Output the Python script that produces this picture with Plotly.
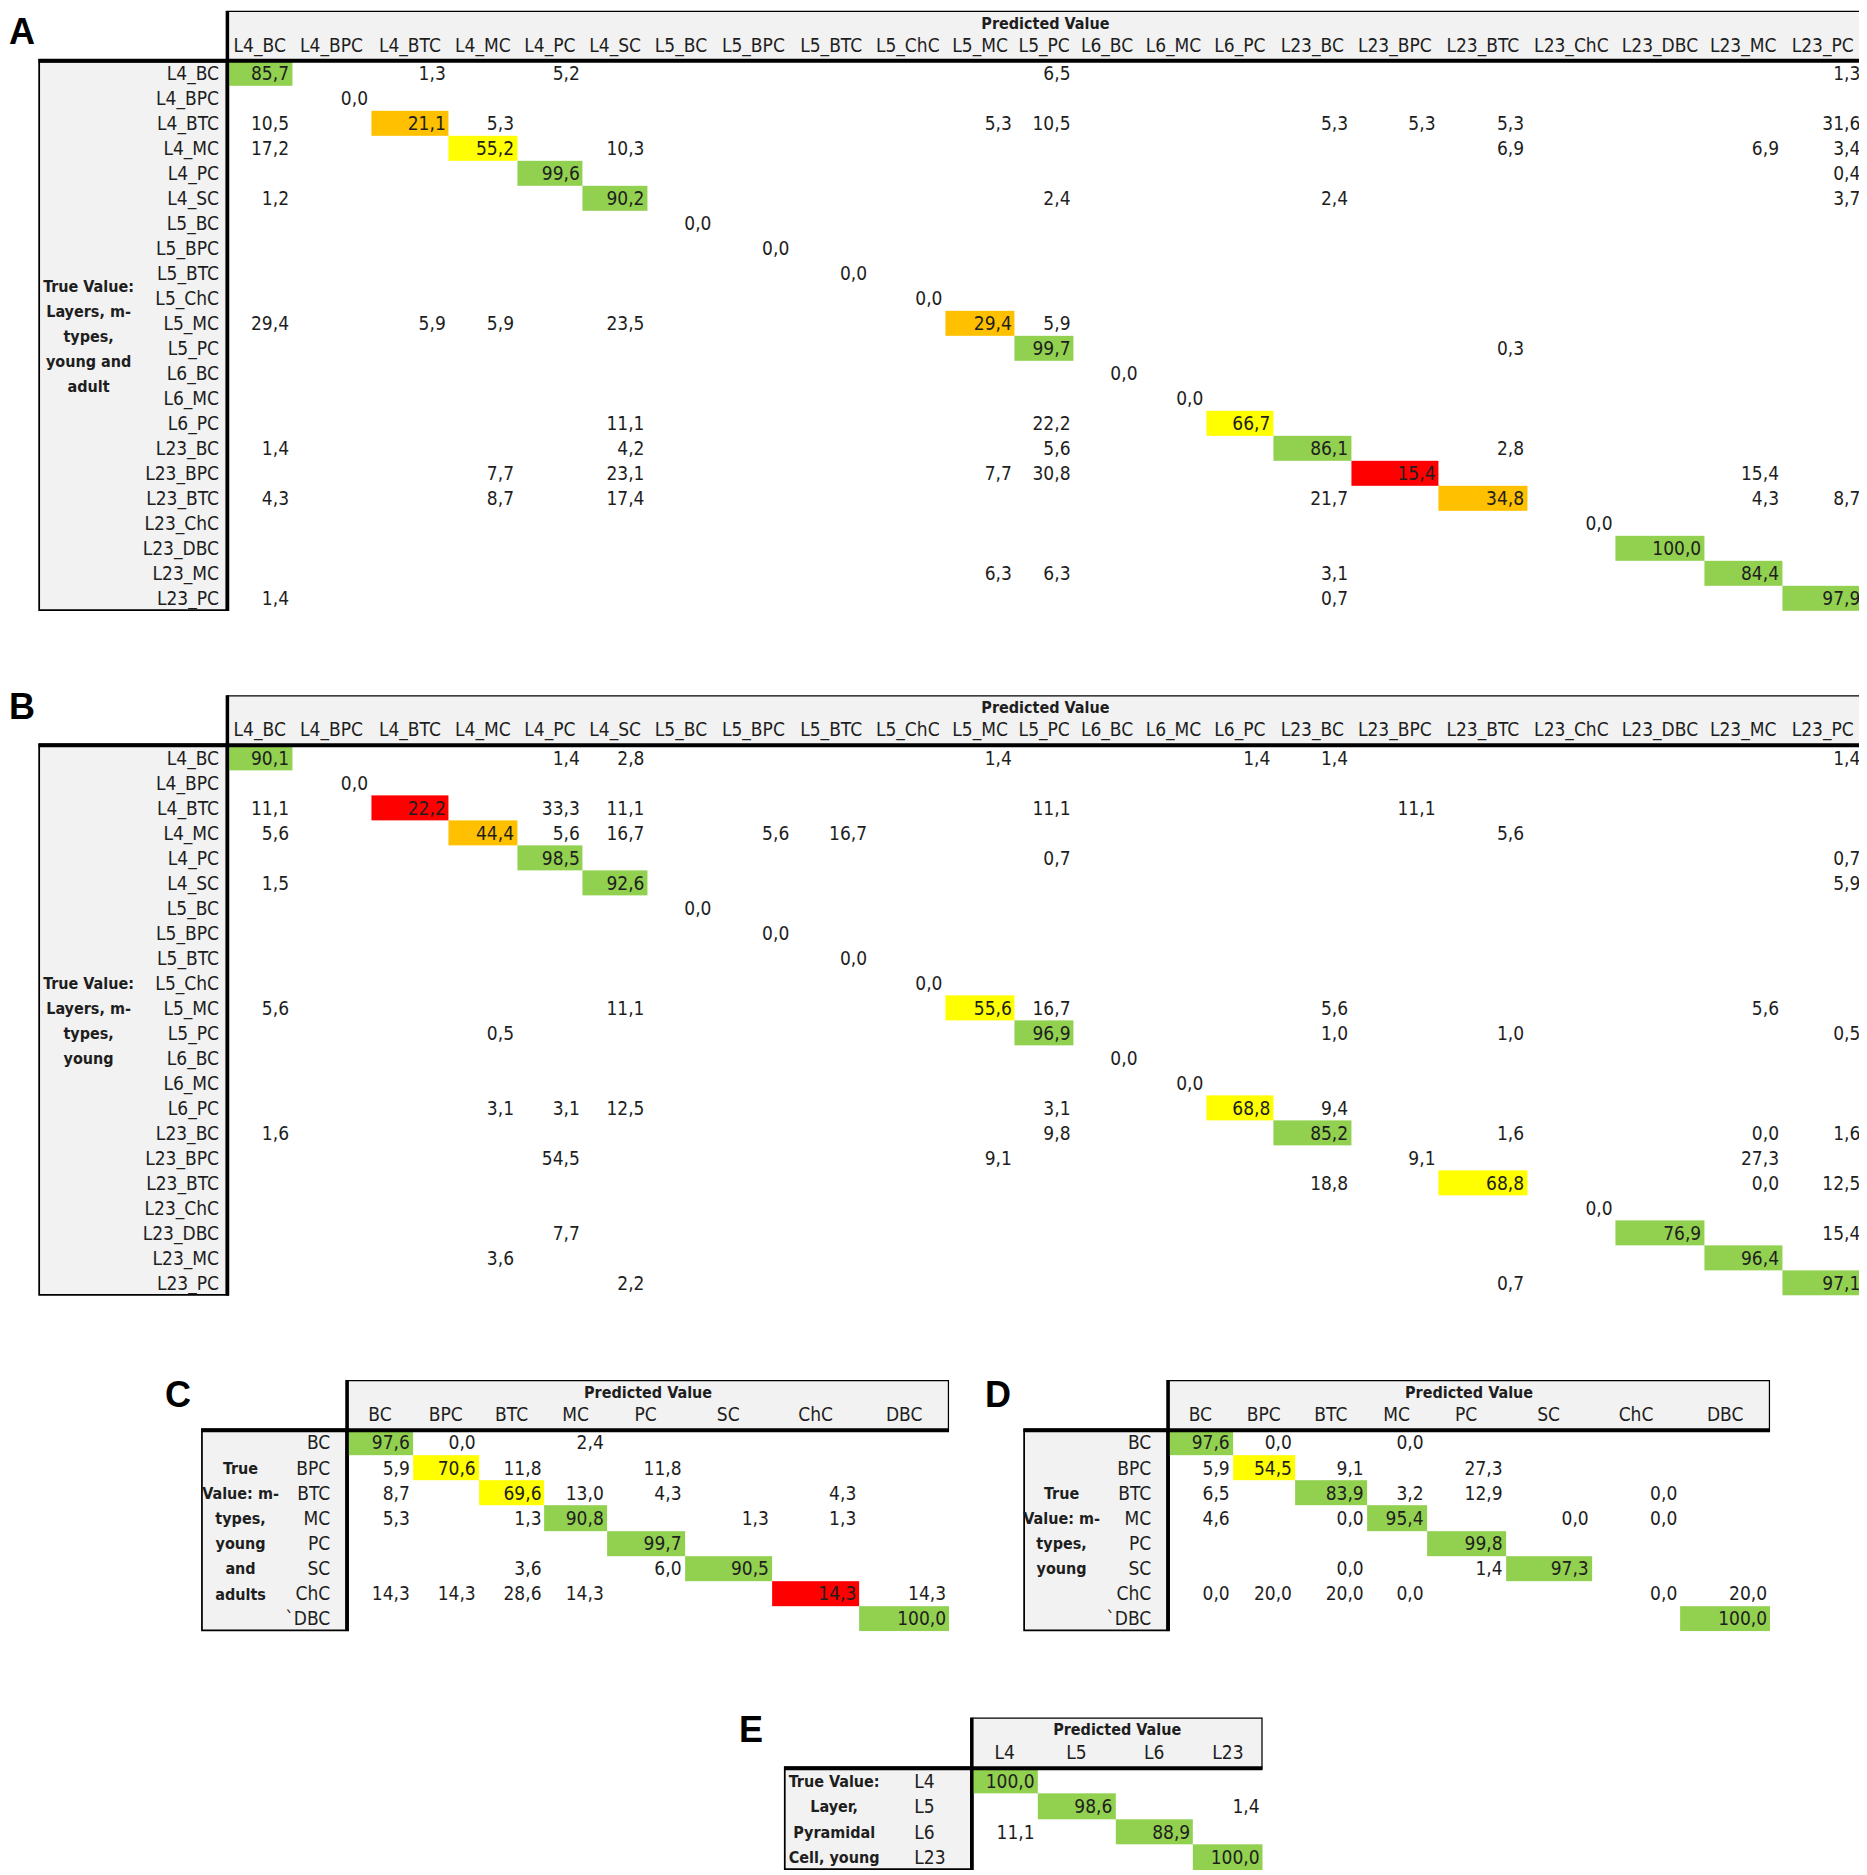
import plotly.graph_objects as go

# ---- data (empty cell = None) ----
_ = None

layer_mtypes = ["L4_BC", "L4_BPC", "L4_BTC", "L4_MC", "L4_PC", "L4_SC",
                "L5_BC", "L5_BPC", "L5_BTC", "L5_ChC", "L5_MC", "L5_PC",
                "L6_BC", "L6_MC", "L6_PC",
                "L23_BC", "L23_BPC", "L23_BTC", "L23_ChC", "L23_DBC", "L23_MC", "L23_PC"]

mtypes_cols = ["BC", "BPC", "BTC", "MC", "PC", "SC", "ChC", "DBC"]
mtypes_rows = ["BC", "BPC", "BTC", "MC", "PC", "SC", "ChC", "`DBC"]
layers = ["L4", "L5", "L6", "L23"]

# A: layers + m-types, young and adult
#            L4 ...................................  L5 .......................  L6 ..........  L23 .................................
values_A = [
    [85.7, _, 1.3, _, 5.2, _,        _, _, _, _, _, 6.5,        _, _, _,        _, _, _, _, _, _, 1.3],
    [_, 0.0, _, _, _, _,             _, _, _, _, _, _,          _, _, _,        _, _, _, _, _, _, _],
    [10.5, _, 21.1, 5.3, _, _,       _, _, _, _, 5.3, 10.5,     _, _, _,        5.3, 5.3, 5.3, _, _, _, 31.6],
    [17.2, _, _, 55.2, _, 10.3,      _, _, _, _, _, _,          _, _, _,        _, _, 6.9, _, _, 6.9, 3.4],
    [_, _, _, _, 99.6, _,            _, _, _, _, _, _,          _, _, _,        _, _, _, _, _, _, 0.4],
    [1.2, _, _, _, _, 90.2,          _, _, _, _, _, 2.4,        _, _, _,        2.4, _, _, _, _, _, 3.7],
    [_, _, _, _, _, _,               0.0, _, _, _, _, _,        _, _, _,        _, _, _, _, _, _, _],
    [_, _, _, _, _, _,               _, 0.0, _, _, _, _,        _, _, _,        _, _, _, _, _, _, _],
    [_, _, _, _, _, _,               _, _, 0.0, _, _, _,        _, _, _,        _, _, _, _, _, _, _],
    [_, _, _, _, _, _,               _, _, _, 0.0, _, _,        _, _, _,        _, _, _, _, _, _, _],
    [29.4, _, 5.9, 5.9, _, 23.5,     _, _, _, _, 29.4, 5.9,     _, _, _,        _, _, _, _, _, _, _],
    [_, _, _, _, _, _,               _, _, _, _, _, 99.7,       _, _, _,        _, _, 0.3, _, _, _, _],
    [_, _, _, _, _, _,               _, _, _, _, _, _,          0.0, _, _,      _, _, _, _, _, _, _],
    [_, _, _, _, _, _,               _, _, _, _, _, _,          _, 0.0, _,      _, _, _, _, _, _, _],
    [_, _, _, _, _, 11.1,            _, _, _, _, _, 22.2,       _, _, 66.7,     _, _, _, _, _, _, _],
    [1.4, _, _, _, _, 4.2,           _, _, _, _, _, 5.6,        _, _, _,        86.1, _, 2.8, _, _, _, _],
    [_, _, _, 7.7, _, 23.1,          _, _, _, _, 7.7, 30.8,     _, _, _,        _, 15.4, _, _, _, 15.4, _],
    [4.3, _, _, 8.7, _, 17.4,        _, _, _, _, _, _,          _, _, _,        21.7, _, 34.8, _, _, 4.3, 8.7],
    [_, _, _, _, _, _,               _, _, _, _, _, _,          _, _, _,        _, _, _, 0.0, _, _, _],
    [_, _, _, _, _, _,               _, _, _, _, _, _,          _, _, _,        _, _, _, _, 100.0, _, _],
    [_, _, _, _, _, _,               _, _, _, _, 6.3, 6.3,      _, _, _,        3.1, _, _, _, _, 84.4, _],
    [1.4, _, _, _, _, _,             _, _, _, _, _, _,          _, _, _,        0.7, _, _, _, _, _, 97.9],
]
# colour of the diagonal cells (g green, y yellow, o orange, r red, "" none)
diag_A = ["g", "", "o", "y", "g", "g", "", "", "", "", "o", "g", "", "", "y", "g", "r", "o", "", "g", "g", "g"]

# B: layers + m-types, young
values_B = [
    [90.1, _, _, _, 1.4, 2.8,        _, _, _, _, 1.4, _,        _, _, 1.4,      1.4, _, _, _, _, _, 1.4],
    [_, 0.0, _, _, _, _,             _, _, _, _, _, _,          _, _, _,        _, _, _, _, _, _, _],
    [11.1, _, 22.2, _, 33.3, 11.1,   _, _, _, _, _, 11.1,       _, _, _,        _, 11.1, _, _, _, _, _],
    [5.6, _, _, 44.4, 5.6, 16.7,     _, 5.6, 16.7, _, _, _,     _, _, _,        _, _, 5.6, _, _, _, _],
    [_, _, _, _, 98.5, _,            _, _, _, _, _, 0.7,        _, _, _,        _, _, _, _, _, _, 0.7],
    [1.5, _, _, _, _, 92.6,          _, _, _, _, _, _,          _, _, _,        _, _, _, _, _, _, 5.9],
    [_, _, _, _, _, _,               0.0, _, _, _, _, _,        _, _, _,        _, _, _, _, _, _, _],
    [_, _, _, _, _, _,               _, 0.0, _, _, _, _,        _, _, _,        _, _, _, _, _, _, _],
    [_, _, _, _, _, _,               _, _, 0.0, _, _, _,        _, _, _,        _, _, _, _, _, _, _],
    [_, _, _, _, _, _,               _, _, _, 0.0, _, _,        _, _, _,        _, _, _, _, _, _, _],
    [5.6, _, _, _, _, 11.1,          _, _, _, _, 55.6, 16.7,    _, _, _,        5.6, _, _, _, _, 5.6, _],
    [_, _, _, 0.5, _, _,             _, _, _, _, _, 96.9,       _, _, _,        1.0, _, 1.0, _, _, _, 0.5],
    [_, _, _, _, _, _,               _, _, _, _, _, _,          0.0, _, _,      _, _, _, _, _, _, _],
    [_, _, _, _, _, _,               _, _, _, _, _, _,          _, 0.0, _,      _, _, _, _, _, _, _],
    [_, _, _, 3.1, 3.1, 12.5,        _, _, _, _, _, 3.1,        _, _, 68.8,     9.4, _, _, _, _, _, _],
    [1.6, _, _, _, _, _,             _, _, _, _, _, 9.8,        _, _, _,        85.2, _, 1.6, _, _, 0.0, 1.6],
    [_, _, _, _, 54.5, _,            _, _, _, _, 9.1, _,        _, _, _,        _, 9.1, _, _, _, 27.3, _],
    [_, _, _, _, _, _,               _, _, _, _, _, _,          _, _, _,        18.8, _, 68.8, _, _, 0.0, 12.5],
    [_, _, _, _, _, _,               _, _, _, _, _, _,          _, _, _,        _, _, _, 0.0, _, _, _],
    [_, _, _, _, 7.7, _,             _, _, _, _, _, _,          _, _, _,        _, _, _, _, 76.9, _, 15.4],
    [_, _, _, 3.6, _, _,             _, _, _, _, _, _,          _, _, _,        _, _, _, _, _, 96.4, _],
    [_, _, _, _, _, 2.2,             _, _, _, _, _, _,          _, _, _,        _, _, 0.7, _, _, _, 97.1],
]
diag_B = ["g", "", "r", "o", "g", "g", "", "", "", "", "y", "g", "", "", "y", "g", "", "y", "", "g", "g", "g"]

# C: m-types, young and adults
values_C = [
    [97.6, 0.0, _, 2.4, _, _, _, _],
    [5.9, 70.6, 11.8, _, 11.8, _, _, _],
    [8.7, _, 69.6, 13.0, 4.3, _, 4.3, _],
    [5.3, _, 1.3, 90.8, _, 1.3, 1.3, _],
    [_, _, _, _, 99.7, _, _, _],
    [_, _, 3.6, _, 6.0, 90.5, _, _],
    [14.3, 14.3, 28.6, 14.3, _, _, 14.3, 14.3],
    [_, _, _, _, _, _, _, 100.0],
]
diag_C = ["g", "y", "y", "g", "g", "g", "r", "g"]

# D: m-types, young
values_D = [
    [97.6, 0.0, _, 0.0, _, _, _, _],
    [5.9, 54.5, 9.1, _, 27.3, _, _, _],
    [6.5, _, 83.9, 3.2, 12.9, _, 0.0, _],
    [4.6, _, 0.0, 95.4, _, 0.0, 0.0, _],
    [_, _, _, _, 99.8, _, _, _],
    [_, _, 0.0, _, 1.4, 97.3, _, _],
    [0.0, 20.0, 20.0, 0.0, _, _, 0.0, 20.0],
    [_, _, _, _, _, _, _, 100.0],
]
diag_D = ["g", "y", "g", "g", "g", "g", "", "g"]

# E: layer, pyramidal cell, young
values_E = [
    [100.0, _, _, _],
    [_, 98.6, _, 1.4],
    [11.1, _, 88.9, _],
    [_, _, _, 100.0],
]
diag_E = ["g", "g", "g", "g"]

group_A = ["True Value:", "Layers, m-", "types,", "young and", "adult"]
group_B = ["True Value:", "Layers, m-", "types,", "young"]
group_C = ["True", "Value: m-", "types,", "young", "and", "adults"]
group_D = ["True", "Value: m-", "types,", "young"]
group_E = ["True Value:", "Layer,", "Pyramidal", "Cell, young"]

# ---- layout (units of a 1560 x 1567 canvas, scaled to the page) ----
S = 1867 / 1560.0
PAGE_MARGIN = 8          # browser body margin around the plot div
FIG_W, FIG_H = 1867 - PAGE_MARGIN, 1875 - PAGE_MARGIN


def px(xd):
    return min(1.0, max(0.0, (xd * S - PAGE_MARGIN) / FIG_W))


def py(yd):
    return min(1.0, max(0.0, 1 - (yd * S - PAGE_MARGIN) / FIG_H))


widths_AB = [54, 66, 65, 57, 55, 54, 56, 65, 65, 63, 58, 49, 56, 55, 56, 65, 73, 74, 74, 74, 65, 68]
widths_C = [55, 55, 55, 52, 65, 73, 73, 75]
widths_D = [54, 52, 60, 50, 66, 72, 74, 75]
widths_E = [55, 65, 65, 58]

FONT = "Liberation Sans Narrow, DejaVu Sans Condensed, Liberation Sans, sans-serif"
TXT = "#1e1e1e"
GREY = "#F2F2F2"
DY = 0.08                # body text sits a touch below the row centre
FILLS = {"g": 0.125, "y": 0.375, "o": 0.625, "r": 0.875}
SCALE = [[0, "#92D050"], [0.25, "#92D050"], [0.25, "#FFFF00"], [0.5, "#FFFF00"],
         [0.5, "#FFC000"], [0.75, "#FFC000"], [0.75, "#FF0000"], [1, "#FF0000"]]

panels = [
    dict(letter="A", lxy=(6, 26), cols=layer_mtypes, rows=layer_mtypes, vals=values_A, diag=diag_A,
         group=group_A, widths=widths_AB, x0=190, top=9, lw=158, rh=20.9, rpad=7, gx=-116, ralign="right"),
    dict(letter="B", lxy=(6, 590), cols=layer_mtypes, rows=layer_mtypes, vals=values_B, diag=diag_B,
         group=group_B, widths=widths_AB, x0=190, top=581, lw=158, rh=20.9, rpad=7, gx=-116, ralign="right"),
    dict(letter="C", lxy=(137, 1165), cols=mtypes_cols, rows=mtypes_rows, vals=values_C, diag=diag_C,
         group=group_C, widths=widths_C, x0=290, top=1153, lw=122, rh=21, rpad=14, gx=-89, ralign="right"),
    dict(letter="D", lxy=(822, 1165), cols=mtypes_cols, rows=mtypes_rows, vals=values_D, diag=diag_D,
         group=group_D, widths=widths_D, x0=976, top=1153, lw=121, rh=21, rpad=14, gx=-89, ralign="right"),
    dict(letter="E", lxy=(617, 1445), cols=layers, rows=layers, vals=values_E, diag=diag_E,
         group=group_E, widths=widths_E, x0=812, top=1435, lw=157, rh=21.25, rpad=48, gx=-115, ralign="left"),
]


def fmt(v):
    return f"{v:.1f}".replace(".", ",")


fig = go.Figure()
shapes = []
annotations = []

for k, p in enumerate(panels, start=1):
    xa = "x" if k == 1 else f"x{k}"
    ya = "y" if k == 1 else f"y{k}"
    n = len(p["rows"])
    edges = [0]
    for w in p["widths"]:
        edges.append(edges[-1] + w)
    total = edges[-1]

    # coloured diagonal cells
    z = [[None] * len(p["cols"]) for _r in range(n)]
    for i, c in enumerate(p["diag"]):
        if c:
            z[i][i] = FILLS[c]
    fig.add_trace(go.Heatmap(z=z, x=edges, y=list(range(n + 1)), colorscale=SCALE,
                             zmin=0, zmax=1, showscale=False, hoverinfo="skip",
                             xaxis=xa, yaxis=ya))

    # cell values, right aligned in their cells
    tx, ty, tt = [], [], []
    for i, row in enumerate(p["vals"]):
        for j, v in enumerate(row):
            if v is not None:
                tx.append(edges[j + 1] - 2.5)
                ty.append(i + 0.5 + DY)
                tt.append(fmt(v))
    fig.add_trace(go.Scatter(x=tx, y=ty, text=tt, mode="text", textposition="middle left",
                             textfont=dict(family=FONT, size=19, color=TXT),
                             cliponaxis=False, hoverinfo="skip", xaxis=xa, yaxis=ya))

    # column headers
    centers = [(edges[j] + edges[j + 1]) / 2 for j in range(len(p["cols"]))]
    fig.add_trace(go.Scatter(x=centers, y=[-0.55] * len(centers), text=p["cols"], mode="text",
                             textposition="middle center",
                             textfont=dict(family=FONT, size=19, color=TXT),
                             cliponaxis=False, hoverinfo="skip", xaxis=xa, yaxis=ya))
    fig.add_trace(go.Scatter(x=[total / 2], y=[-1.45], text=["<b>Predicted Value</b>"], mode="text",
                             textposition="middle center",
                             textfont=dict(family=FONT, size=16, color=TXT),
                             cliponaxis=False, hoverinfo="skip", xaxis=xa, yaxis=ya))

    # row labels
    rpos = "middle left" if p["ralign"] == "right" else "middle right"
    fig.add_trace(go.Scatter(x=[-p["rpad"]] * n, y=[i + 0.5 + DY for i in range(n)], text=p["rows"],
                             mode="text", textposition=rpos,
                             textfont=dict(family=FONT, size=19, color=TXT),
                             cliponaxis=False, hoverinfo="skip", xaxis=xa, yaxis=ya))

    # group label, centred in the row label box
    m = len(p["group"])
    gy = [n / 2 + (q - (m - 1) / 2) + DY for q in range(m)]
    fig.add_trace(go.Scatter(x=[p["gx"]] * m, y=gy, text=[f"<b>{g}</b>" for g in p["group"]],
                             mode="text", textposition="middle center",
                             textfont=dict(family=FONT, size=16, color=TXT),
                             cliponaxis=False, hoverinfo="skip", xaxis=xa, yaxis=ya))

    # boxes
    shapes.append(dict(type="rect", xref=xa, yref=ya, x0=0, x1=total, y0=-2, y1=0,
                       fillcolor=GREY, line=dict(color="black", width=2.5), layer="below"))
    shapes.append(dict(type="rect", xref=xa, yref=ya, x0=-p["lw"], x1=0, y0=0, y1=n,
                       fillcolor=GREY, line=dict(color="black", width=3.5), layer="below"))
    shapes.append(dict(type="line", xref=xa, yref=ya, x0=-p["lw"], x1=total, y0=0, y1=0,
                       line=dict(color="black", width=4)))
    shapes.append(dict(type="line", xref=xa, yref=ya, x0=0, x1=0, y0=-2, y1=n,
                       line=dict(color="black", width=3.5)))

    # axes placed on the page
    axis_style = dict(visible=False, showgrid=False, zeroline=False, fixedrange=True)
    fig.layout["xaxis" if k == 1 else f"xaxis{k}"] = dict(
        domain=[px(p["x0"] - p["lw"]), px(p["x0"] + total)], range=[-p["lw"], total],
        anchor=ya, **axis_style)
    fig.layout["yaxis" if k == 1 else f"yaxis{k}"] = dict(
        domain=[py(p["top"] + (n + 2) * p["rh"]), py(p["top"])], range=[n, -2],
        anchor=xa, **axis_style)

    # panel letter (left edge given, kept inside the page)
    annotations.append(dict(text=f"<b>{p['letter']}</b>", xref="paper", yref="paper",
                            x=px(p["lxy"][0]), y=py(p["lxy"][1]), showarrow=False,
                            xanchor="left", yanchor="middle", borderpad=0,
                            font=dict(family="Liberation Sans, Arial, sans-serif", size=36, color="black")))

fig.update_layout(width=FIG_W, height=FIG_H, margin=dict(l=0, r=0, t=0, b=0),
                  paper_bgcolor="white", plot_bgcolor="white", showlegend=False,
                  shapes=shapes, annotations=annotations)

fig.write_html("out.html")
